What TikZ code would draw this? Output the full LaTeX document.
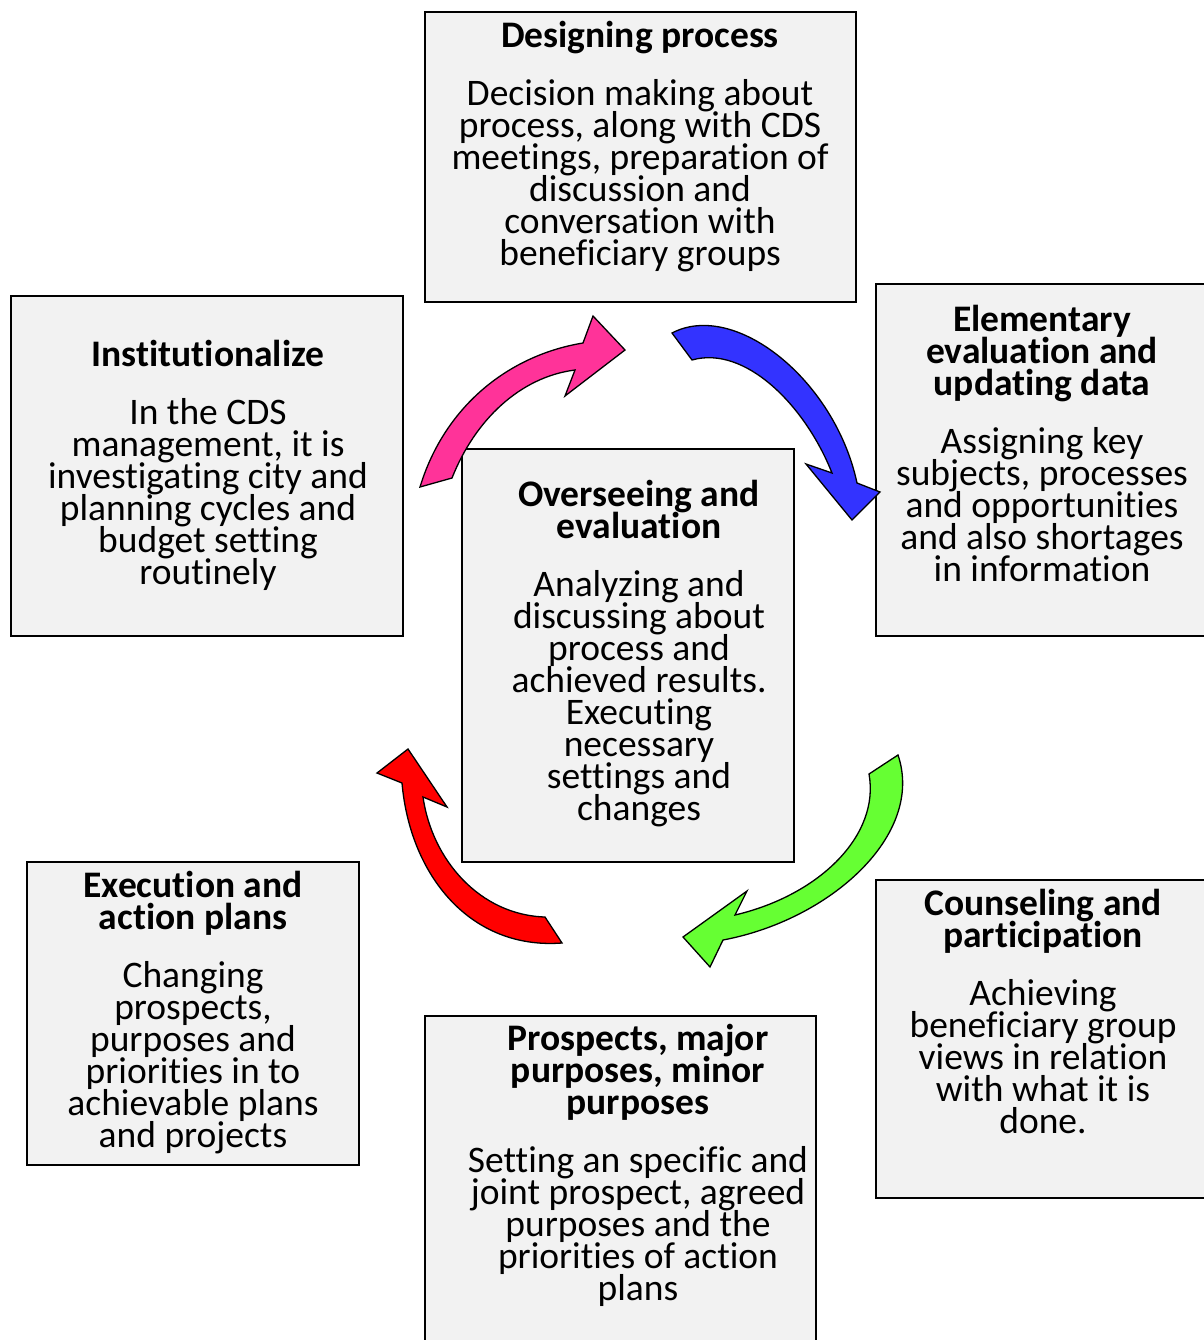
\documentclass[tikz,border=0pt]{standalone}
\usepackage{fontspec}
\setmainfont{Carlito}[Ligatures=NoCommon]
\newcommand{\tightlines}{\fontsize{37.5}{32}\selectfont\lineskiplimit=-100pt\lineskip=0pt}
\begin{document}
\begin{tikzpicture}[x=1pt,y=-1pt,
  box/.style={draw=black,line width=2pt,fill=boxgray},
  txt/.style={align=center,inner sep=0pt,anchor=north,font=\tightlines},
  blk/.style={draw=black,line width=1.3pt,line join=miter}]
\definecolor{boxgray}{HTML}{F2F2F2}
\definecolor{pinkA}{HTML}{FF3399}
\definecolor{blueA}{HTML}{3333FF}
\definecolor{greenA}{HTML}{66FF33}
\definecolor{redA}{HTML}{FF0000}
\useasboundingbox (0,0) rectangle (1203,1340);
% boxes
\path[box] (425,12) rectangle (856,302) node[pos=0.5,name=bDesign]{};
\path[box] (11,296) rectangle (403,636) node[pos=0.5,name=bInst]{};
\path[box] (876,284) rectangle (1215,636) node[pos=0.5,name=bElem]{};
\path[box] (462,449) rectangle (794,862) node[pos=0.5,name=bOver]{};
\path[box] (27,862) rectangle (359,1165) node[pos=0.5,name=bExec]{};
\path[box] (876,880) rectangle (1215,1198) node[pos=0.5,name=bCoun]{};
\path[box] (425,1016) rectangle (816,1350) node[pos=0.5,name=bPros]{};
% texts
\node[txt] (tDesign) at (640,21) {\textbf{Designing process}\\[26pt]
 Decision making about\\ process, along with CDS\\ meetings, preparation of\\ discussion and\\ conversation with\\ beneficiary groups};
\node[txt] (tInst) at (208,340) {\textbf{Institutionalize}\\[26pt]
 In the CDS\\ management, it is\\ investigating city and\\ planning cycles and\\ budget setting\\ routinely};
\node[txt] (tElem) at (1042,305) {\textbf{Elementary}\\ \textbf{evaluation and}\\ \textbf{updating data}\\[26pt]
 Assigning key\\ subjects, processes\\ and opportunities\\ and also shortages\\ in information};
\node[txt] (tOver) at (639,480) {\textbf{Overseeing and}\\ \textbf{evaluation}\\[26pt]
 Analyzing and\\ discussing about\\ process and\\ achieved results.\\ Executing\\ necessary\\ settings and\\ changes};
\node[txt] (tExec) at (193,871) {\textbf{Execution and}\\ \textbf{action plans}\\[26pt]
 Changing\\ prospects,\\ purposes and\\ priorities in to\\ achievable plans\\ and projects};
\node[txt] (tCoun) at (1043,889) {\textbf{Counseling and}\\ \textbf{participation}\\[26pt]
 Achieving\\ beneficiary group\\ views in relation\\ with what it is\\ done.};
\node[txt] (tPros) at (638,1024) {\textbf{Prospects, major}\\ \textbf{purposes, minor}\\ \textbf{purposes}\\[26pt]
 Setting an specific and\\ joint prospect, agreed\\ purposes and the\\ priorities of action\\ plans};
% arrows
\filldraw[blk,fill=pinkA] (420,487) .. controls (445,405) and (510,355) .. (583,343)
  -- (593,316) -- (625,350) -- (565,396) -- (575,370)
  .. controls (520,377) and (475,420) .. (452,478) -- cycle;
\filldraw[blk,fill=blueA] (672,333) .. controls (735,300) and (835,380) .. (857,483)
  -- (880,492) -- (852,520) -- (806,464) -- (832,473)
  .. controls (805,405) and (745,345) .. (692,360) -- cycle;
\filldraw[blk,fill=greenA] (898,755) .. controls (925,835) and (830,920) .. (723,940)
  -- (710,967) -- (683,937) -- (747,891) -- (735,915)
  .. controls (820,895) and (880,835) .. (869,774) -- cycle;
\filldraw[blk,fill=redA] (562,943) .. controls (470,950) and (410,875) .. (402,783)
  -- (377,773) -- (408,749) -- (447,807) -- (423,797)
  .. controls (432,860) and (480,915) .. (545,917) -- cycle;
\end{tikzpicture}
\end{document}
